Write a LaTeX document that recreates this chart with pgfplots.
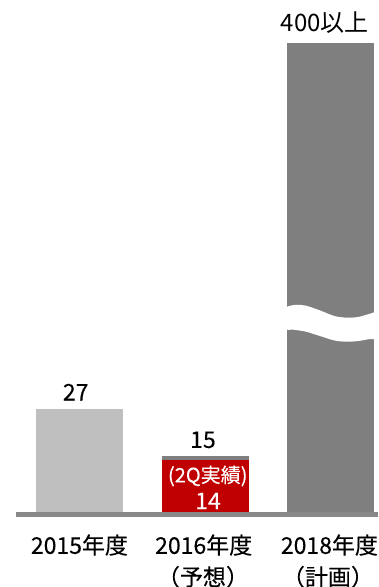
\documentclass[border=0pt]{standalone}
\usepackage{fontspec}
\setmainfont{Noto Sans CJK JP}[FakeBold=0.2]
\newfontfamily\plainfont{Noto Sans CJK JP}
\usepackage{pgfplots}
\pgfplotsset{compat=1.18}
\definecolor{lgray}{HTML}{BFBFBF}
\definecolor{dgray}{HTML}{7F7F7F}
\definecolor{dred}{HTML}{C00000}
\definecolor{basegray}{HTML}{888888}
\begin{document}
\begin{tikzpicture}
\useasboundingbox (0,0) rectangle (378pt,587pt);
\begin{axis}[at={(0,0)}, anchor=south west, scale only axis,
  width=378pt, height=587pt,
  xmin=-0.632, xmax=2.374, ymin=-18.81, ymax=132.47,
  hide axis, clip=false]
\addplot[ybar, bar width=0.692, bar shift=0pt, fill=lgray, draw=none] coordinates {(0,27)};
\addplot[ybar, bar width=0.692, bar shift=0pt, fill=dgray, draw=none] coordinates {(1,15)};
\addplot[ybar, bar width=0.692, bar shift=0pt, fill=dred, draw=none] coordinates {(1,14)};
% 2018: 400+ (truncated bar)
\addplot[ybar, bar width=0.692, bar shift=0pt, fill=dgray, draw=none] coordinates {(2,121.4)};
% break mark
\fill[white] plot[smooth cycle, tension=0.5] coordinates {(1.59,50.5) (1.64,53.2) (1.72,53.9) (1.80,53.7) (1.91,52.5) (2.03,51.0) (2.13,50.6) (2.22,50.8) (2.31,51.6) (2.42,52.3) (2.42,45.6) (2.31,45.1) (2.22,44.6) (2.13,44.4) (2.03,44.7) (1.91,45.9) (1.80,47.0) (1.70,47.5) (1.63,47.7)};
\draw[line width=5pt, basegray] (-0.505,0) -- (2.374,0);
\node[inner sep=0, font=\fontsize{23}{25}\selectfont] at (-0.03,31.4) {27};
\node[inner sep=0, font=\fontsize{23}{25}\selectfont] at (0.982,19.1) {15};
\node[inner sep=0, text=white, font=\fontsize{20}{22}\selectfont] at (1.02,9.8) {(2Q実績)};
\node[inner sep=0, text=white, font=\fontsize{23}{25}\selectfont] at (1.022,3.35) {14};
\node[inner sep=0, font=\fontsize{23}{25}\selectfont] at (0,-8.0) {2015年度};
\node[inner sep=0, font=\fontsize{23}{25}\selectfont] at (0.988,-8.0) {2016年度};
\node[inner sep=0, font=\fontsize{23}{25}\selectfont] at (1.988,-8.0) {2018年度};
\node[inner sep=0, font=\fontsize{23}{25}\selectfont] at (0.982,-16.2) {（予想）};
\node[inner sep=0, font=\fontsize{23}{25}\selectfont] at (1.976,-16.2) {（計画）};
\node[inner sep=0, font=\plainfont\fontsize{24}{26}\selectfont] at (1.952,126.7) {400以上};
\end{axis}
\end{tikzpicture}
\end{document}
